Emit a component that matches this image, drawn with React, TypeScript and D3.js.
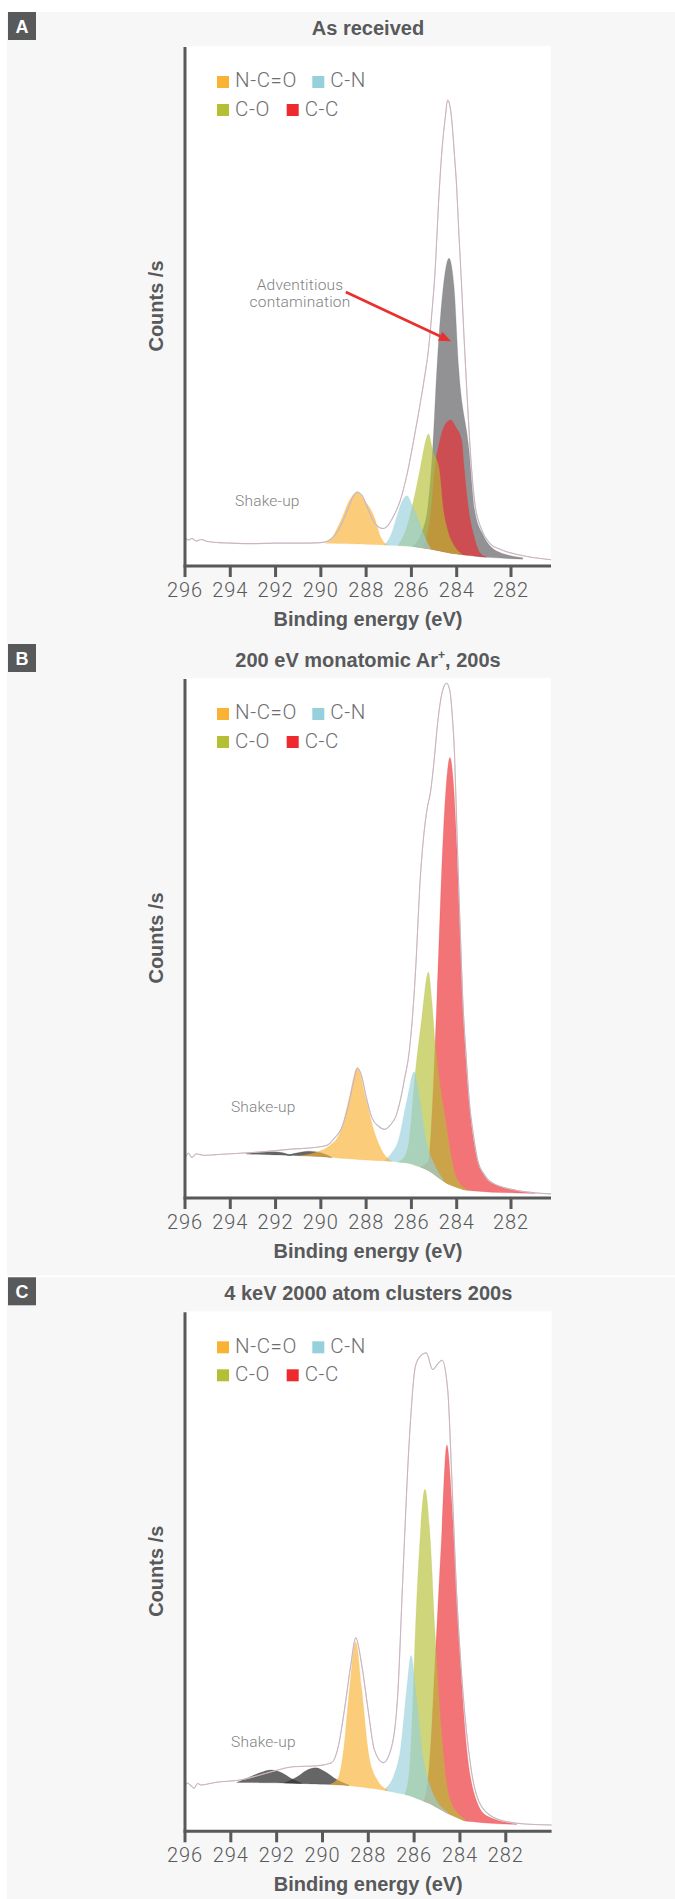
import React from 'react';
import * as d3 from 'd3';

type P = [number, number];

// ---------- categories / labels ----------
const panelLetters = ['A', 'B', 'C'];
const panelTitles = ['As received', '200 eV monatomic Ar', '4 keV 2000 atom clusters 200s'];
const tickValues = [296, 294, 292, 290, 288, 286, 284, 282];
const legendNames = ['N-C=O', 'C-N', 'C-O', 'C-C'];
const legendColors = ['#f9b233', '#96d0dc', '#b5bf33', '#ed2a2e'];
const advColor = '#6d6e71';
const shakeColor = '#333333';

// x-axis breakpoints (eV) as drawn in the original figure
const xBreaksAB = [296, 284, 282, 280.3];
const xBreaksC = [296, 280];

// ---------- Panel A (eV, counts rel.) ----------
const envA: P[] = [[296.0,5.6],[295.85,5.0],[295.7,5.3],[295.5,4.8],[295.3,5.1],[295.0,4.7],[294.5,4.5],[294.0,4.4],[293.0,4.3],[292.0,4.4],[291.0,4.4],[290.0,4.5],[289.7,4.8],[289.4,5.8],[289.1,7.9],[288.8,11.0],[288.55,13.5],[288.4,14.2],[288.2,13.7],[287.95,11.3],[287.7,8.8],[287.45,7.5],[287.25,7.2],[287.0,8.0],[286.8,9.5],[286.5,12.5],[286.2,17.5],[285.95,23],[285.7,29],[285.45,35.5],[285.25,41.5],[285.1,48.5],[284.95,57],[284.8,70],[284.65,80],[284.5,86.5],[284.4,89.6],[284.3,88.5],[284.21,85.4],[284.1,79],[284.01,73.5],[283.92,64],[283.82,54],[283.73,44],[283.62,33],[283.51,23],[283.33,12],[283.08,7.0],[282.77,4.3],[282.4,3.2],[281.62,2.1],[280.3,1.2]];
const bgA: P[] = [[289.9,4.4],[288,4.2],[287,4.0],[286,3.8],[285.2,3.3],[284.3,2.5],[283.5,2.0],[283,1.7],[282,1.4],[280.3,1.1]];
const advA: P[] = [[285.95,3.7],[285.5,6.9],[285.27,11.5],[285.06,22.5],[284.87,38.3],[284.59,53.8],[284.34,59.2],[284.12,53.8],[283.93,38.3],[283.55,22.5],[283.33,10.5],[283.03,6.0],[282.72,3.6],[282.04,2.0],[281.5,1.6]];
const ccA: P[] = [[285.55,3.4],[285.3,6],[285.1,12],[284.97,18.5],[284.74,24.2],[284.45,27.6],[284.26,28.1],[284.05,26.8],[283.82,24.2],[283.72,18.5],[283.58,11.5],[283.35,5.5],[283.14,2.5],[282.9,1.7]];
const coA: P[] = [[286.6,3.9],[286.2,7.5],[285.92,12.3],[285.6,19],[285.4,23.5],[285.25,25.4],[285.05,22],[284.78,18.7],[284.6,11],[284.4,6.8],[284.1,3.8],[283.8,2.2]];
const cnA: P[] = [[287.2,4.0],[286.9,6.0],[286.68,9],[286.45,12],[286.2,13.5],[285.95,11.5],[285.7,9],[285.45,6],[285.16,3.4]];
const ncoA: P[] = [[289.8,4.4],[289.5,5.5],[289.25,7.5],[289.06,9.3],[288.75,12.5],[288.39,14.2],[288.05,12.5],[287.63,9.3],[287.35,5.5],[287.1,4.1]];

// ---------- Panel B ----------
const envB: P[] = [[296.0,7.6],[295.85,8.6],[295.7,7.8],[295.5,8.5],[295.2,8.2],[294.7,8.3],[293.6,8.6],[292.5,8.9],[291.3,9.4],[290.3,9.7],[289.7,10.2],[289.4,11.5],[289.1,13.3],[288.8,17.5],[288.55,22.5],[288.39,25.0],[288.2,23.5],[288.0,19.5],[287.75,15.5],[287.45,13.8],[287.19,13.2],[286.9,14.2],[286.68,15.8],[286.49,18.8],[286.3,23],[286.1,28],[285.95,35],[285.8,45],[285.63,60],[285.45,70],[285.3,75],[285.16,78],[285.0,84],[284.85,91],[284.7,96],[284.55,98.5],[284.45,99],[284.3,97.5],[284.2,93],[284.1,85.7],[284.02,75],[283.94,62.1],[283.86,50],[283.78,38.5],[283.66,28],[283.54,18.8],[283.38,12],[283.22,7.1],[282.98,4.5],[282.74,3.1],[281.8,1.5],[280.3,0.8]];
const bgB: P[] = [[294.5,8.6],[292,8.3],[290,8.0],[289,7.6],[288,7.3],[287,7.1],[286.1,6.7],[285.5,5.8],[285.16,5.1],[284.8,3.9],[284.4,2.7],[283.69,1.5],[282.74,1.1],[280.3,0.8]];
const ccB: P[] = [[285.6,5.6],[285.25,7.1],[285.06,18.8],[284.87,38.5],[284.59,70],[284.45,80],[284.3,84.7],[284.15,80],[284.02,70],[283.9,55],[283.78,38.5],[283.54,18.8],[283.22,7.1],[282.98,4.3],[282.74,3.0],[281.8,1.5],[281.0,1.0]];
const coB: P[] = [[286.6,6.9],[286.3,8],[286.1,11],[285.82,24.4],[285.54,34.6],[285.25,43.4],[285.1,38],[284.97,30.6],[284.75,22],[284.5,14.9],[284.25,8],[284.02,3.9],[283.6,1.6]];
const cnB: P[] = [[287.2,7.1],[286.9,8.5],[286.58,11],[286.2,18.8],[285.88,24.3],[285.63,18.8],[285.35,11],[284.97,6.3],[284.6,3.6]];
const ncoB: P[] = [[290.9,8.0],[290.2,8.8],[289.7,9.8],[289.15,12.6],[288.77,18.8],[288.39,25.0],[288.0,18.8],[287.63,12.6],[287.25,8.7],[286.87,7.1]];
const shakeB1: P[] = [[293.3,8.5],[292.8,8.8],[292.3,8.95],[291.8,8.8],[291.3,8.2]];
const shakeB2: P[] = [[291.5,8.2],[290.9,8.8],[290.5,9.0],[290.0,8.7],[289.5,7.7]];

// ---------- Panel C ----------
const envC: P[] = [[296.0,8.6],[295.9,9.3],[295.75,8.8],[295.6,8.3],[295.45,9.2],[295.3,8.9],[294.68,9.4],[293.55,9.9],[292.42,11.2],[291.3,12.4],[290.26,12.6],[289.6,13.2],[289.3,16.5],[289.04,23.4],[288.76,32.1],[288.55,37.2],[288.29,32.1],[288.01,23.4],[287.73,15.6],[287.35,13.2],[286.98,16.3],[286.7,27.4],[286.51,47.0],[286.22,74.5],[285.94,89.5],[285.7,91.5],[285.47,92],[285.19,88.8],[284.95,90],[284.78,90.6],[284.53,84.7],[284.38,70.6],[284.16,47.0],[283.88,27.4],[283.5,11.6],[283.03,4.6],[282.28,2.2],[281.15,1.4],[280.0,1.2]];
const bgC: P[] = [[294.7,9.4],[293.7,9.4],[291.67,9.3],[289.04,8.9],[287.54,8.1],[286.22,6.9],[285.29,5.3],[284.53,3.4],[283.78,2.0],[282.46,1.4],[280.0,1.2]];
const ccC: P[] = [[285.6,4.9],[285.45,8],[285.29,15.6],[285.1,31.3],[284.82,54.9],[284.57,74.3],[284.35,62.8],[284.06,39.1],[283.78,19.5],[283.41,7.7],[282.84,3.0],[281.53,1.4]];
const coC: P[] = [[286.4,7.2],[286.2,12],[286.07,23.4],[285.94,39.1],[285.76,54.9],[285.53,65.8],[285.28,54.9],[285.1,39.1],[284.82,19.5],[284.44,6.1],[283.78,2.3]];
const cnC: P[] = [[287.26,8.2],[286.88,10.8],[286.6,15.6],[286.32,27.4],[286.13,33.8],[285.94,27.4],[285.66,15.6],[285.29,8.5],[284.53,3.6]];
const ncoC: P[] = [[289.7,9.0],[289.33,10.1],[289.08,15.6],[288.82,27.4],[288.55,36.4],[288.29,27.4],[288.01,15.6],[287.64,10.1],[287.17,8.0]];
const shakeC1: P[] = [[293.74,9.4],[293.2,10.4],[292.7,11.3],[292.24,11.8],[291.8,11.3],[291.3,10.0],[290.92,9.3]];
const shakeC2: P[] = [[291.67,9.3],[291.1,10.5],[290.7,11.7],[290.3,12.2],[289.9,11.5],[289.4,10.0],[288.85,8.9]];

// annotation positions (eV, counts)
const shakeLabelPos: P[] = [[293.79, 11.6], [293.97, 16.5], [293.99, 16.3]];
const advText = ['Adventitious', 'contamination'];
const advTextPos: P = [290.92, 53.1];
const advArrowTail: P = [288.9, 52.7];
const advArrowTip: P = [284.25, 43.2];

// ---------- layout ----------
const W = 675, H = 1899;
const panelTops = [12, 644, 1277.3];
const PL = 185;
const xRangeAB = [185, 456.7, 511, 551];
const xRangeC = [185, 551.6];
const PLOT_T = 34, PLOT_B = 554;

const boldFont = "'Liberation Sans', Arial, Helvetica, sans-serif";
const lightFont = "Roboto, 'Liberation Sans', Arial, sans-serif";
const dark = '#58595b';

interface Comp { data: P[]; color: string; alpha: number; }
interface PanelCfg {
  env: P[]; bg: P[]; comps: Comp[]; xb: number[]; xr: number[];
}

const fillAlpha = 0.65;
const panels: PanelCfg[] = [
  {
    env: envA, bg: bgA, xb: xBreaksAB, xr: xRangeAB,
    comps: [
      { data: advA, color: advColor, alpha: 0.75 },
      { data: ccA, color: legendColors[3], alpha: fillAlpha },
      { data: coA, color: legendColors[2], alpha: fillAlpha },
      { data: cnA, color: legendColors[1], alpha: fillAlpha },
      { data: ncoA, color: legendColors[0], alpha: fillAlpha },
    ],
  },
  {
    env: envB, bg: bgB, xb: xBreaksAB, xr: xRangeAB,
    comps: [
      { data: shakeB1, color: shakeColor, alpha: 0.75 },
      { data: shakeB2, color: shakeColor, alpha: 0.75 },
      { data: ccB, color: legendColors[3], alpha: fillAlpha },
      { data: coB, color: legendColors[2], alpha: fillAlpha },
      { data: cnB, color: legendColors[1], alpha: fillAlpha },
      { data: ncoB, color: legendColors[0], alpha: fillAlpha },
    ],
  },
  {
    env: envC, bg: bgC, xb: xBreaksC, xr: xRangeC,
    comps: [
      { data: shakeC1, color: shakeColor, alpha: 0.75 },
      { data: shakeC2, color: shakeColor, alpha: 0.75 },
      { data: ccC, color: legendColors[3], alpha: fillAlpha },
      { data: coC, color: legendColors[2], alpha: fillAlpha },
      { data: cnC, color: legendColors[1], alpha: fillAlpha },
      { data: ncoC, color: legendColors[0], alpha: fillAlpha },
    ],
  },
];

function Panel({ idx }: { idx: number }) {
  const cfg = panels[idx];
  const oy = panelTops[idx];
  const x = d3.scaleLinear().domain(cfg.xb).range(cfg.xr);
  const y = d3.scaleLinear().domain([0, 100]).range([oy + PLOT_B, oy + PLOT_T]);
  const bg = d3.scaleLinear().domain(cfg.bg.map(d => d[0])).range(cfg.bg.map(d => d[1])).clamp(true);
  const area = d3.area<P>()
    .x(d => x(d[0]))
    .y0(d => y(bg(d[0])))
    .y1(d => y(Math.max(d[1], bg(d[0]))))
    .curve(d3.curveMonotoneX);
  const line = d3.line<P>().x(d => x(d[0])).y(d => y(d[1])).curve(d3.curveMonotoneX);
  const plotR = cfg.xr[cfg.xr.length - 1];
  const cx = (PL + plotR) / 2;
  const axisY = oy + PLOT_B;

  let arrow: React.ReactNode = null;
  if (idx === 0) {
    const x1 = x(advArrowTail[0]), y1 = y(advArrowTail[1]);
    const x2 = x(advArrowTip[0]), y2 = y(advArrowTip[1]);
    const ang = Math.atan2(y2 - y1, x2 - x1);
    const hl = 12, hw = 5;
    const bx = x2 - hl * Math.cos(ang), by = y2 - hl * Math.sin(ang);
    const pts = [
      [x2, y2],
      [bx + hw * Math.sin(ang), by - hw * Math.cos(ang)],
      [bx - hw * Math.sin(ang), by + hw * Math.cos(ang)],
    ];
    arrow = (
      <g>
        <text x={x(advTextPos[0])} y={y(advTextPos[1])} textAnchor="middle" fontFamily={lightFont} fontWeight={300} fontSize={15.5} letterSpacing={0.2} fill="#808285">
          <tspan x={x(advTextPos[0])}>{advText[0]}</tspan>
          <tspan x={x(advTextPos[0])} dy={16.7}>{advText[1]}</tspan>
        </text>
        <line x1={x1} y1={y1} x2={bx} y2={by} stroke="#e8312f" strokeWidth={2.6} />
        <polygon points={pts.map(p => p.join(',')).join(' ')} fill="#e8312f" />
      </g>
    );
  }

  const legendRows = [[0, 1], [2, 3]];
  const legendX = [[217, 312.3], [217, 286.7]];

  return (
    <g>
      {/* letter box */}
      <rect x={8} y={oy} width={28} height={28} fill={dark} />
      <text x={22} y={oy + 20.5} textAnchor="middle" fontFamily={boldFont} fontWeight="bold" fontSize={18} fill="#fff">{panelLetters[idx]}</text>
      {/* title */}
      <text x={cx} y={oy + 22.7} textAnchor="middle" fontFamily={boldFont} fontWeight="bold" fontSize={20} fill={dark}>
        {panelTitles[idx]}
        {idx === 1 ? (<><tspan dy={-8} fontSize={12}>+</tspan><tspan dy={8}>, 200s</tspan></>) : null}
      </text>
      {/* plot area */}
      <rect x={PL} y={oy + PLOT_T} width={plotR - PL} height={PLOT_B - PLOT_T} fill="#fff" />
      {cfg.comps.map((c, i) => (
        <path key={i} d={area(c.data) || ''} fill={c.color} fillOpacity={c.alpha} stroke={c.color} strokeOpacity={0.35} strokeWidth={0.6} />
      ))}
      <path d={line(cfg.env) || ''} fill="none" stroke="#a9d3dd" strokeWidth={1.1} />
      <path d={line(cfg.env) || ''} fill="none" stroke="#f19aa6" strokeWidth={0.7} strokeOpacity={0.9} />
      {arrow}
      <text x={x(shakeLabelPos[idx][0])} y={y(shakeLabelPos[idx][1])} fontFamily={lightFont} fontWeight={300} fontSize={15.5} letterSpacing={0.2} fill="#808285">Shake-up</text>
      {/* legend */}
      {legendRows.map((row, r) => row.map((li, k) => (
        <g key={`${r}-${k}`}>
          <rect x={legendX[r][k]} y={oy + 64 + r * 28} width={12} height={12} fill={legendColors[li]} />
          <text x={legendX[r][k] + 18} y={oy + 75.3 + r * 28.4} fontFamily={lightFont} fontWeight={300} fontSize={20.5} letterSpacing={0.6} fill="#6d6e71">{legendNames[li]}</text>
        </g>
      )))}
      {/* axes */}
      <line x1={PL} y1={oy + PLOT_T + 1} x2={PL} y2={axisY} stroke={dark} strokeWidth={3} />
      <line x1={PL - 1.5} y1={axisY} x2={plotR} y2={axisY} stroke={dark} strokeWidth={3} />
      {tickValues.map(t => (
        <g key={t}>
          <line x1={x(t)} y1={axisY} x2={x(t)} y2={axisY + 11} stroke={dark} strokeWidth={3} />
          <text x={x(t)} y={axisY + 30.7} textAnchor="middle" fontFamily={lightFont} fontWeight={300} fontSize={20} letterSpacing={0.9} fill={dark}>{t}</text>
        </g>
      ))}
      <text x={cx} y={axisY + 59.7} textAnchor="middle" fontFamily={boldFont} fontWeight="bold" fontSize={20} fill={dark}>Binding energy (eV)</text>
      <text transform={`translate(163,${oy + (PLOT_T + PLOT_B) / 2}) rotate(-90)`} textAnchor="middle" fontFamily={boldFont} fontWeight="bold" fontSize={20} fill={dark}>Counts /s</text>
    </g>
  );
}

export default function App() {
  return (
    <svg width={W} height={H} viewBox={`0 0 ${W} ${H}`} style={{ position: 'absolute', left: 0, top: 0, display: 'block' }}>
      <rect x={0} y={0} width={W} height={H} fill="#fff" />
      <rect x={7} y={12} width={W - 7} height={1263.5} fill="#f7f7f7" />
      <rect x={7} y={1277} width={W - 7} height={H - 1277} fill="#f7f7f7" />
      {panelLetters.map((_, i) => <Panel key={i} idx={i} />)}
    </svg>
  );
}
